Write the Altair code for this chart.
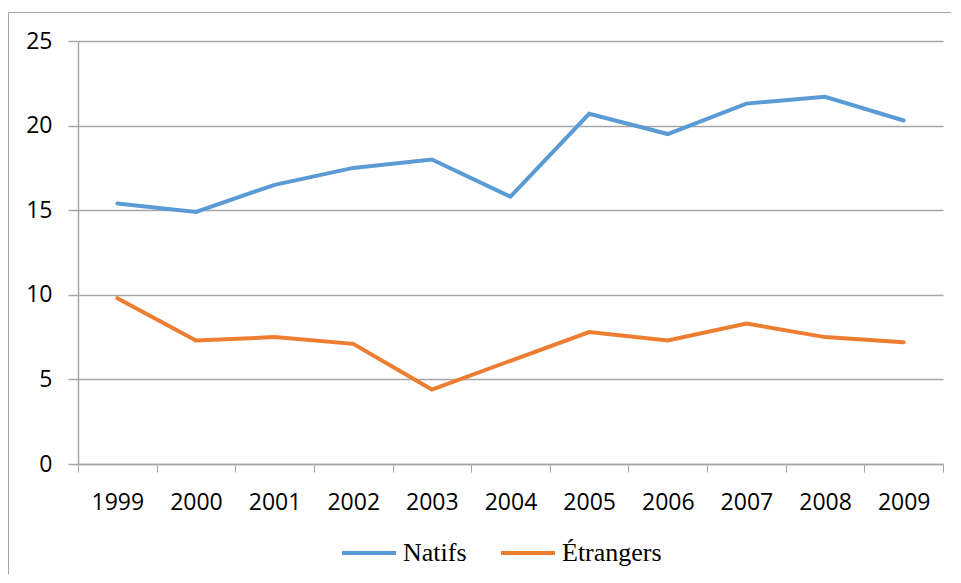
import altair as alt
import pandas as pd

years = ["1999", "2000", "2001", "2002", "2003", "2004", "2005", "2006", "2007", "2008", "2009"]
natifs = [15.4, 14.9, 16.5, 17.5, 18.0, 15.8, 20.7, 19.5, 21.3, 21.7, 20.3]
etrangers = [9.8, 7.3, 7.5, 7.1, 4.4, 6.1, 7.8, 7.3, 8.3, 7.5, 7.2]
series_names = ["Natifs", "Étrangers"]
series_colors = ["#5B9BD5", "#ED7D31"]

rows = []
for name, vals in zip(series_names, [natifs, etrangers]):
    for yr, v in zip(years, vals):
        rows.append({"year": yr, "value": v, "series": name})
df = pd.DataFrame(rows)

GRID = "#A6A6A6"

frame = alt.Chart(pd.DataFrame({"a": [0]})).mark_rect(
    fill=None, stroke=GRID, strokeWidth=1
).encode(
    x=alt.value(-69.5), x2=alt.value(960), y=alt.value(-28.5), y2=alt.value(620)
)

lines = alt.Chart(df).mark_line(strokeWidth=4, strokeCap="round", strokeJoin="miter").encode(
    x=alt.X(
        "year:N",
        sort=years,
        scale=alt.Scale(paddingInner=0, paddingOuter=0),
        axis=alt.Axis(
            title=None, labelAngle=0, grid=False, tickBand="extent",
            tickSize=8, tickColor=GRID, domainColor=GRID, domainWidth=1.5,
            labelFont="Open Sans", labelFontSize=23, labelColor="#000000",
            labelPadding=19,
        ),
    ),
    y=alt.Y(
        "value:Q",
        scale=alt.Scale(domain=[0, 25], nice=False),
        axis=alt.Axis(
            title=None, values=[0, 5, 10, 15, 20, 25], grid=True,
            gridColor=GRID, gridWidth=1.5, tickSize=10, tickColor=GRID,
            tickWidth=1.5, domainColor=GRID, domainWidth=1.5,
            labelFont="Open Sans", labelFontSize=23, labelColor="#000000",
            labelPadding=16,
        ),
    ),
    color=alt.Color(
        "series:N",
        sort=series_names,
        scale=alt.Scale(domain=series_names, range=series_colors),
        legend=alt.Legend(
            title=None, orient="none", direction="horizontal",
            legendX=262, legendY=483,
            symbolType="stroke", symbolSize=2916, symbolStrokeWidth=4,
            labelFont="Liberation Serif", labelFontSize=26, labelColor="#000000",
            labelOffset=5, columnPadding=26,
        ),
    ),
)

chart = alt.layer(frame, lines).properties(
    width=865, height=423,
    autosize=alt.AutoSizeParams(type="none"),
    padding={"left": 70, "top": 33, "right": 8, "bottom": 110},
).configure_view(stroke=None)

chart.save("out.html", embed_options={"renderer": "svg", "actions": False})
